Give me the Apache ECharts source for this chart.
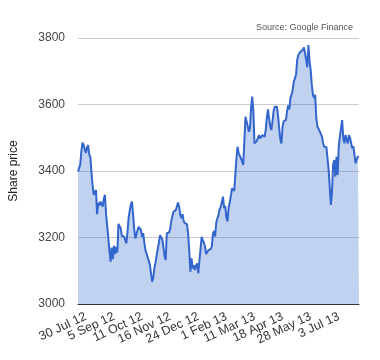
<!DOCTYPE html>
<html>
<head>
<meta charset="utf-8">
<script src="https://cdn.jsdelivr.net/npm/echarts@6/dist/echarts.min.js"></script>
<style>
html,body{margin:0;padding:0;background:#fff;}
#chart{width:380px;height:360px;}
</style>
</head>
<body>
<div id="chart"></div>
<script>
const tickLabels = ['30 Jul 12','5 Sep 12','11 Oct 12','16 Nov 12','24 Dec 12','1 Feb 13','11 Mar 13','18 Apr 13','28 May 13','3 Jul 13'];
const firstTickIndex = 7;
const tickStep = 25;
const prices = [
3398,3400,3420,3460,3485,3478,3465,3454,3470,3478,
3450,3442,3395,3355,3328,3330,3343,3270,3304,3296,
3308,3300,3293,3318,3328,3268,3234,3228,3160,3127,
3170,3135,3175,3150,3172,3155,3241,3240,3228,3205,
3202,3203,3200,3182,3215,3258,3280,3298,3308,3270,
3225,3197,3210,3222,3232,3238,3222,3202,3213,3185,
3162,3152,3140,3130,3117,3090,3067,3080,3110,3125,
3147,3145,3185,3207,3213,3195,3170,3145,3132,3213,
3208,3215,3225,3250,3265,3278,3276,3282,3288,3305,
3292,3268,3258,3270,3250,3243,3248,3240,3210,3160,
3097,3137,3107,3117,3102,3115,3122,3092,3130,3165,
3202,3192,3185,3172,3150,3145,3162,3158,3165,3172,
3210,3220,3203,3245,3258,3268,3285,3292,3290,3323,
3288,3295,3260,3248,3290,3305,3325,3348,3343,3340,
3345,3440,3473,3453,3448,3438,3428,3418,3490,3563,
3563,3535,3518,3528,3590,3624,3580,3483,3485,3490,
3495,3508,3498,3493,3508,3505,3503,3523,3560,3585,
3558,3535,3523,3548,3580,3593,3588,3593,3565,3528,
3495,3483,3533,3550,3553,3553,3580,3597,3585,3620,
3629,3644,3668,3674,3690,3734,3749,3755,3759,3754,
3765,3772,3754,3735,3712,3779,3730,3704,3659,3630,
3619,3629,3560,3534,3534,3520,3514,3504,3485,3473,
3478,3472,3468,3403,3350,3298,3340,3420,3433,3383,
3443,3388,3473,3503,3530,3553,3500,3483,3508,3495,
3483,3508,3500,3498,3468,3475,3478,3423,3435,3443,
3443
];
const categories = prices.map((_, i) => String(i));
const lastIndex = prices.length - 1;

const chart = echarts.init(document.getElementById('chart'), null, {renderer: 'canvas'});
chart.setOption({
  animation: false,
  backgroundColor: '#fff',
  textStyle: {fontFamily: 'Arial, "Liberation Sans", sans-serif'},
  title: {
    text: 'Source: Google Finance',
    right: 22,
    top: 18,
    textStyle: {fontSize: 9, fontWeight: 'normal', color: '#555', fontFamily: 'Arial, "Liberation Sans", sans-serif'}
  },
  grid: {left: 78, right: 21, top: 38, bottom: 56, containLabel: false},
  xAxis: {
    type: 'category',
    data: categories,
    boundaryGap: false,
    axisLine: {show: true, lineStyle: {color: '#333', width: 1}},
    axisTick: {show: false},
    splitLine: {show: false},
    axisLabel: {
      rotate: 25,
      margin: 12,
      fontSize: 12.5,
      color: '#333',
      hideOverlap: false,
      interval: function (i) {
        return i === 0 || i === lastIndex || (i >= firstTickIndex && (i - firstTickIndex) % tickStep === 0);
      },
      formatter: function (v, i) {
        if (i < firstTickIndex || (i - firstTickIndex) % tickStep !== 0) return '';
        return tickLabels[(i - firstTickIndex) / tickStep] || '';
      }
    }
  },
  yAxis: {
    type: 'value',
    min: 3000,
    max: 3800,
    interval: 200,
    name: 'Share price',
    nameLocation: 'middle',
    nameGap: 58,
    nameRotate: 90,
    nameTextStyle: {fontSize: 12, color: '#222'},
    axisLine: {show: false},
    axisTick: {show: false},
    axisLabel: {fontSize: 12, color: '#444', margin: 13, formatter: function (v) { return String(v); }},
    splitLine: {lineStyle: {color: '#ccc', width: 1}}
  },
  series: [{
    type: 'line',
    data: prices,
    showSymbol: false,
    symbol: 'none',
    lineStyle: {color: '#3366cc', width: 2},
    itemStyle: {color: '#3366cc'},
    areaStyle: {color: '#3366cc', opacity: 0.3}
  }]
});
</script>
</body>
</html>
